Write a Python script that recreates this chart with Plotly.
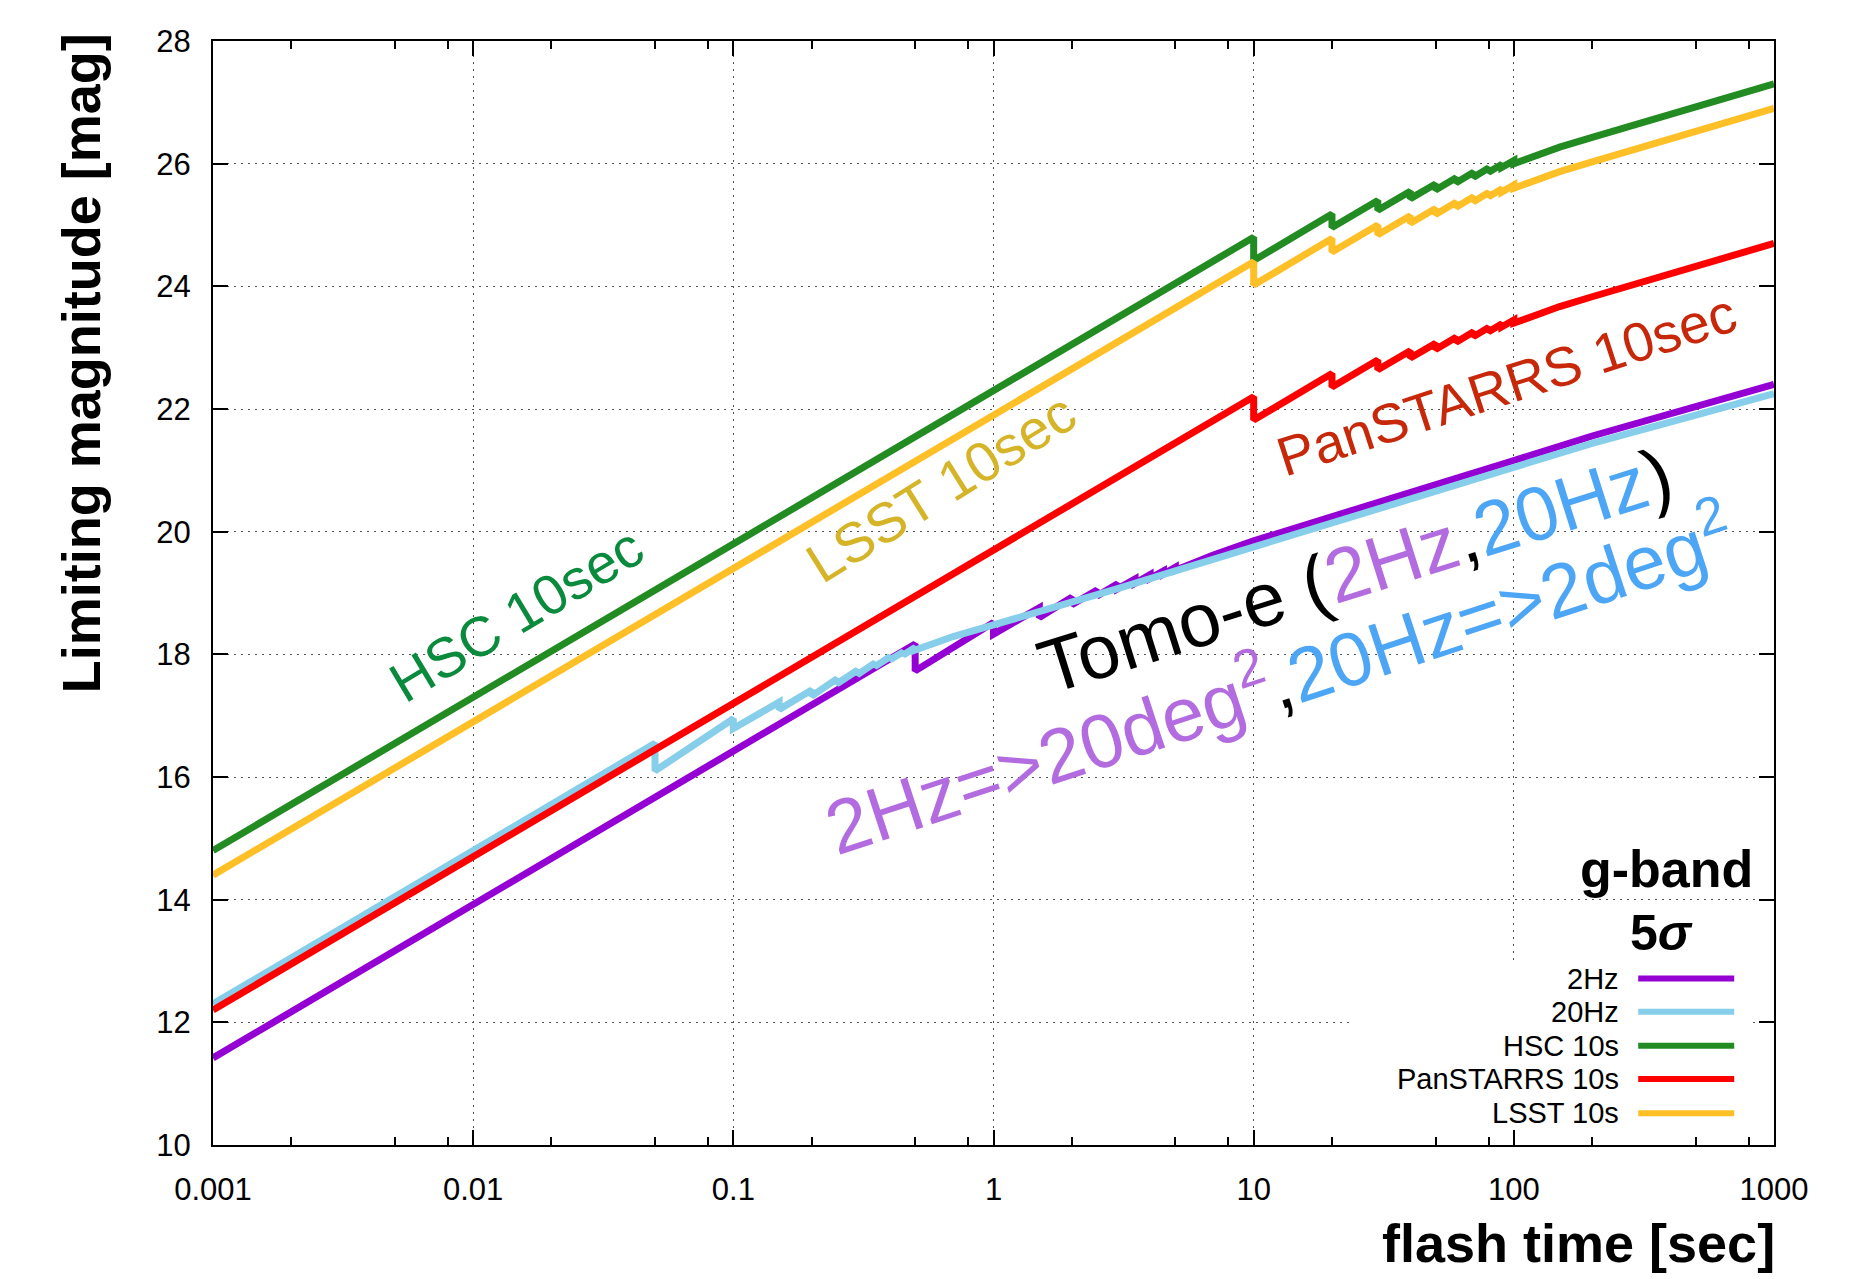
import plotly.graph_objects as go

# ---------------- data ----------------
tick_vals = [0.001, 0.01, 0.1, 1, 10, 100, 1000]
tick_text = ["0.001", "0.01", "0.1", "1", "10", "100", "1000"]
minor_vals = [0.002, 0.005, 0.008, 0.02, 0.05, 0.08, 0.2, 0.5, 0.8,
              2, 5, 8, 20, 50, 80, 200, 500, 800]
y_ticks = [10, 12, 14, 16, 18, 20, 22, 24, 26, 28]

# 10 s exposure surveys: flash time [s]
survey_t = [0.001, 10, 10, 20, 20, 30, 30, 40, 40, 50, 50, 60, 60, 70, 70,
            80, 80, 90, 90, 100, 100, 150, 200, 300, 500, 700, 1000]
hsc_mag = [14.80, 24.80, 24.42, 25.18, 24.96, 25.40, 25.24, 25.55, 25.43,
           25.67, 25.57, 25.77, 25.69, 25.86, 25.78, 25.93, 25.86, 25.99,
           25.94, 26.05, 26.00, 26.27, 26.43, 26.65, 26.92, 27.11, 27.30]
lsst_mag = [14.40, 24.40, 24.02, 24.78, 24.56, 25.00, 24.84, 25.15, 25.03,
            25.27, 25.17, 25.37, 25.29, 25.46, 25.38, 25.53, 25.46, 25.59,
            25.54, 25.65, 25.60, 25.87, 26.03, 26.25, 26.52, 26.71, 26.90]
ps_mag = [12.20, 22.20, 21.82, 22.58, 22.36, 22.80, 22.64, 22.95, 22.83,
          23.07, 22.97, 23.17, 23.09, 23.26, 23.18, 23.33, 23.26, 23.39,
          23.34, 23.45, 23.40, 23.67, 23.83, 24.05, 24.32, 24.51, 24.70]

# Tomo-e 2 Hz
hz2_t = [0.001, 0.5, 0.5, 1.0, 1.0, 1.5, 1.5, 2.0, 2.0, 2.5, 2.5, 3.0, 3.0,
         3.5, 3.5, 4.0, 4.0, 4.5, 4.5, 5.0, 5.0, 7, 10, 20, 50, 100, 200,
         500, 1000]
hz2_mag = [11.42, 18.17, 17.73, 18.52, 18.33, 18.76, 18.60, 18.93, 18.81,
           19.05, 18.95, 19.15, 19.07, 19.23, 19.16, 19.30, 19.24, 19.36,
           19.31, 19.42, 19.37, 19.62, 19.85, 20.24, 20.75, 21.16, 21.56,
           22.03, 22.40]

# Tomo-e 20 Hz
hz20_t = [0.001, 0.05, 0.05, 0.10, 0.10, 0.15, 0.15, 0.20, 0.20, 0.25, 0.25,
          0.30, 0.30, 0.35, 0.35, 0.40, 0.40, 0.45, 0.45, 0.50, 0.50, 0.7, 1,
          1.5, 2, 3, 5, 7, 10, 20, 50, 100, 200, 500, 1000]
hz20_mag = [12.30, 16.55, 16.10, 16.95, 16.79, 17.22, 17.10, 17.42, 17.32,
            17.60, 17.52, 17.74, 17.67, 17.86, 17.80, 17.96, 17.91, 18.04,
            17.99, 18.11, 18.07, 18.29, 18.48, 18.69, 18.84, 19.07, 19.36,
            19.55, 19.76, 20.14, 20.65, 21.05, 21.44, 21.90, 22.25]

series_names = ["2Hz", "20Hz", "HSC 10s", "PanSTARRS 10s", "LSST 10s"]
series_t = [hz2_t, hz20_t, survey_t, survey_t, survey_t]
series_mag = [hz2_mag, hz20_mag, hsc_mag, ps_mag, lsst_mag]
series_colors = ["#9400D3", "#87CEEB", "#228B22", "#FF0000", "#FFBF27"]

FONT = "Liberation Sans"

fig = go.Figure()
for name, t, m, c in zip(series_names, series_t, series_mag, series_colors):
    fig.add_trace(go.Scatter(x=t, y=m, mode="lines", name=name,
                             line=dict(color=c, width=7),
                             showlegend=False))

# ---------------- manual gnuplot-style legend ----------------
shapes = [dict(type="rect", xref="x domain", yref="y domain",
               x0=0.7297, x1=0.9859, y0=0.0155, y1=0.1649,
               fillcolor="white", line=dict(width=0), layer="above")]
annotations = []
leg_rows = [0.1508, 0.1208, 0.0898, 0.0598, 0.0288]
for name, c, yy in zip(series_names, series_colors, leg_rows):
    shapes.append(dict(type="line", xref="x domain", yref="y domain",
                       x0=0.9130, x1=0.9745, y0=yy, y1=yy,
                       line=dict(color=c, width=6), layer="above"))
    annotations.append(dict(xref="x domain", yref="y domain", x=0.9005, y=yy,
                            xanchor="right", yanchor="middle", showarrow=False,
                            borderpad=0, borderwidth=0,
                            text=name, font=dict(family=FONT, size=29, color="black")))

# ---------------- text labels ----------------
PURP = "#B36BE0"
BLUE = "#4DA6F5"
labels = [
    ("HSC 10sec", 0.1944, 0.4802, -31, 56, "#0A8A3C"),
    ("LSST 10sec", 0.4666, 0.5953, -32, 56, "#D6B428"),
    ("PanSTARRS 10sec", 0.8284, 0.6886, -18, 55, "#C8280A"),
    ("Tomo-e (<span style='color:%s'>2Hz</span>,<span style='color:%s'>20Hz</span>)" % (PURP, BLUE),
     0.7317, 0.5200, -17.5, 76, "black"),
    ("<span style='color:%s'>2Hz=&gt;20deg<sup>2</sup></span>,<span style='color:%s'>20Hz=&gt;2deg<sup>2</sup></span>" % (PURP, BLUE),
     0.6823, 0.4240, -18.2, 76, "black"),
]
for txt, x, y, ang, sz, col in labels:
    annotations.append(dict(xref="x domain", yref="y domain", x=x, y=y,
                            xanchor="center", yanchor="middle", showarrow=False,
                            text=txt, textangle=ang,
                            font=dict(family=FONT, size=sz, color=col)))

annotations.append(dict(xref="x domain", yref="y domain", x=0.9878, y=0.2501,
                        xanchor="right", yanchor="middle", showarrow=False,
                        text="<b>g-band</b>", font=dict(family=FONT, size=52, color="black")))
annotations.append(dict(xref="x domain", yref="y domain", x=0.9282, y=0.1921,
                        xanchor="center", yanchor="middle", showarrow=False,
                        text="<b>5<i>σ</i></b>", font=dict(family=FONT, size=50, color="black")))

# axis titles (placed like the reference: y title top-aligned, x title right-aligned)
annotations.append(dict(xref="x domain", yref="y domain", x=-0.0849, y=0.7085,
                        xanchor="center", yanchor="middle", showarrow=False,
                        text="<b>Limiting magnitude [mag]</b>", textangle=-90,
                        font=dict(family=FONT, size=54, color="black")))
annotations.append(dict(xref="x domain", yref="y domain", x=1.002, y=-0.0888,
                        xanchor="right", yanchor="middle", showarrow=False,
                        text="<b>flash time [sec]</b>",
                        font=dict(family=FONT, size=54, color="black")))

# page body has an 8 px margin: keep the figure inside the 1851x1279 window
fig.update_layout(
    width=1843, height=1271,
    margin=dict(l=205, r=77, t=33, b=134),
    paper_bgcolor="white", plot_bgcolor="white",
    shapes=shapes, annotations=annotations,
    showlegend=False,
)
fig.update_xaxes(
    type="log", range=[-3, 3],
    tickvals=tick_vals, ticktext=tick_text,
    ticks="inside", ticklen=15, tickwidth=1.5, tickcolor="black",
    ticklabelstandoff=16,
    tickfont=dict(family=FONT, size=31, color="black"),
    showline=True, linewidth=2, linecolor="black", mirror="allticks",
    showgrid=True, gridcolor="#555555", gridwidth=1.2, griddash="2px,5px",
    zeroline=False,
    minor=dict(tickvals=minor_vals, ticks="inside", ticklen=8, tickwidth=1.5,
               tickcolor="black", showgrid=False),
)
fig.update_yaxes(
    range=[10, 28], tickvals=y_ticks,
    ticks="inside", ticklen=15, tickwidth=1.5, tickcolor="black",
    ticklabelstandoff=14,
    tickfont=dict(family=FONT, size=31, color="black"),
    showline=True, linewidth=2, linecolor="black", mirror="allticks",
    showgrid=True, gridcolor="#555555", gridwidth=1.2, griddash="2px,5px",
    zeroline=False,
)

fig.write_html("out.html")
